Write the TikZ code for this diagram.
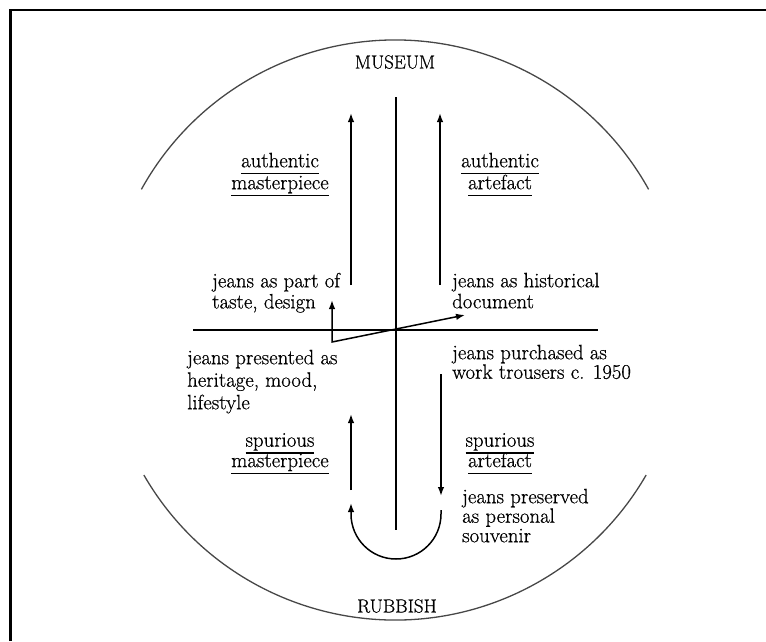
\documentclass[tikz,border=0pt]{standalone}
\usepackage{fontspec}
\setmainfont{Latin Modern Roman}[FakeBold=0.6]
\usetikzlibrary{arrows.meta}
\newcommand\ulin[1]{\setbox0=\hbox{#1}\rlap{\rule[-7.2pt]{\wd0}{1.6pt}}\box0}
\newcommand\tfont[1]{\fontsize{20.8}{#1}\selectfont\lineskiplimit=-30pt\relax}
\begin{document}
\begin{tikzpicture}[x=1pt,y=-1pt,
  txt/.style={inner sep=0pt, align=left, anchor=north west},
  lab/.style={inner sep=0pt, align=center, anchor=north},
  poletext/.style={inner sep=0pt, font=\fontsize{19}{22}\selectfont},
  ln/.style={line width=1.5pt},
  tip/.style={-{Latex[length=9pt,width=6.5pt]}},
  arr/.style={ln, tip},
  circ/.style={line width=1.3pt, black!72},
  frame/.style={line width=2.8pt}]
\useasboundingbox (0,0) rectangle (766,641);
% frame
\draw[frame] (10.5,641) -- (10.5,10) -- (766,10);
% circle arcs
\coordinate (c) at (395,330);
\draw[circ] (c) ++(209:290) arc[start angle=209,end angle=331,radius=290];
\draw[circ] (c) ++(150:290) arc[start angle=150,end angle=30,radius=290];
% poles
\node[poletext] (museum) at (395,62) {MUSEUM};
\node[poletext] (rubbish) at (397,606) {RUBBISH};
% axes
\coordinate (vt) at (396,97);
\coordinate (vb) at (396,530);
\coordinate (hl) at (193,330);
\coordinate (hr) at (598,330);
\draw[ln] (vt) -- (vb);
\draw[ln] (hl) -- (hr);
% labels
\node[lab, font=\tfont{22}] (am) at (280,152.6) {\ulin{authentic}\\\ulin{masterpiece}};
\node[lab, font=\tfont{22}] (aa) at (500,152.6) {\ulin{authentic}\\\ulin{artefact}};
\node[lab, font=\tfont{20.5}] (sm) at (280,433) {\ulin{spurious}\\\ulin{masterpiece}};
\node[lab, font=\tfont{20.5}] (sa) at (500,433) {\ulin{spurious}\\\ulin{artefact}};
% texts
\node[txt, font=\tfont{21}] (taste) at (212,272.6) {jeans as part of\\taste, design};
\node[txt, font=\tfont{21}] (hist) at (452,272.6) {jeans as historical\\document};
\node[txt, font=\tfont{22.5}] (herit) at (187,349.6) {jeans presented as\\heritage, mood,\\lifestyle};
\node[txt, font=\tfont{19.5}] (work) at (452,344.6) {jeans purchased as\\work trousers c. 1950};
\node[txt, font=\tfont{19.5}] (souv) at (462,488.6) {jeans preserved\\as personal\\souvenir};
% arrow end points
\coordinate (lu0) at (351,285);
\coordinate (lu1) at (351,113);
\coordinate (ru0) at (440,285);
\coordinate (ru1) at (440,113);
\coordinate (dtip) at (332,300);
\coordinate (dcor) at (332,342);
\coordinate (dend) at (465,315);
\coordinate (rd0) at (441,374);
\coordinate (rd1) at (441,496);
\coordinate (ld0) at (351,490);
\coordinate (ld1) at (351,414);
\coordinate (u0) at (441,510);
\coordinate (u1) at (351,503);
% arrows
\draw[arr] (lu0) -- (lu1);
\draw[arr] (ru0) -- (ru1);
\draw[ln, {Latex[length=9pt,width=6.5pt]}-{Latex[length=9pt,width=6.5pt]}] (dtip) -- (dcor) -- (dend);
\draw[arr] (rd0) -- (rd1);
\draw[arr] (ld0) -- (ld1);
\draw[arr] (u0) -- ++(0,4) arc[start angle=0,end angle=180,radius=45] -- (u1);
\end{tikzpicture}
\end{document}
